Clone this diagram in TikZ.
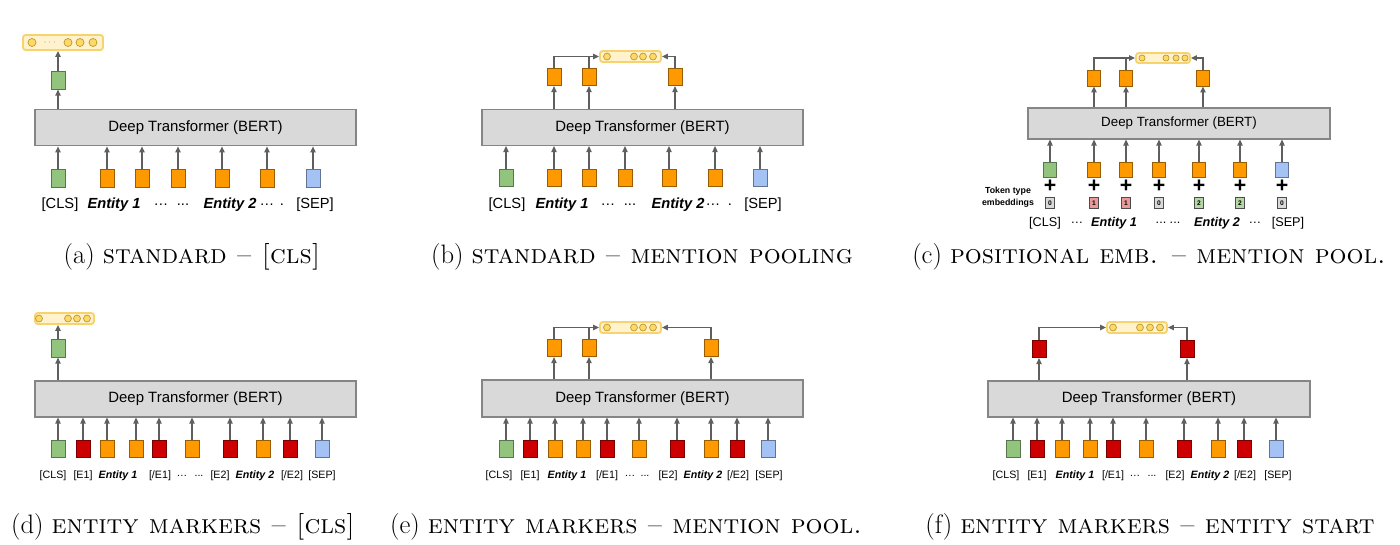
\documentclass[tikz,border=0pt]{standalone}
\usepackage{fontspec}
\newfontfamily\arialf{Liberation Sans}
\usepackage{tikz}
\usetikzlibrary{arrows.meta, positioning}

\definecolor{bertfill}{HTML}{D9D9D9}
\definecolor{bertline}{HTML}{858585}
\definecolor{tokgreen}{HTML}{93C47D}
\definecolor{tokorange}{HTML}{FF9900}
\definecolor{tokred}{HTML}{CC0000}
\definecolor{tokblue}{HTML}{A4C2F4}
\definecolor{vecfill}{HTML}{FFF2CC}
\definecolor{vecline}{HTML}{F6D36E}
\definecolor{dotfill}{HTML}{FFD966}
\definecolor{dotline}{HTML}{B8962E}
\definecolor{arrowgray}{HTML}{5F5F5F}
\definecolor{ttpink}{HTML}{EA9999}
\definecolor{ttgreen}{HTML}{B6D7A8}

\begin{document}
\begin{tikzpicture}[x=0.75pt, y=-0.75pt,
        bert/.style={draw=bertline, fill=bertfill, line width=0.8pt, inner sep=0pt, font=\arialf\fontsize{11.2}{13}\selectfont},
        tok/.style={line width=0.6pt, minimum width=10.5pt, minimum height=13pt, inner sep=0pt},
        gtok/.style={tok, fill=tokgreen, draw=tokgreen!60!black},
        otok/.style={tok, fill=tokorange, draw=tokorange!60!black},
        rtok/.style={tok, fill=tokred, draw=tokred!60!black},
        btok/.style={tok, fill=tokblue, draw=tokblue!60!black},
        vec/.style={draw=vecline, fill=vecfill, rounded corners=2pt, line width=1.4pt, inner sep=0pt},
        dot/.style={circle, draw=dotline, fill=dotfill, line width=0.5pt, inner sep=0pt, minimum size=5.2pt},
        arrow/.style={-{Triangle[length=4.5pt, width=4pt]}, line width=0.9pt, draw=arrowgray},
        link/.style={line width=0.9pt, draw=arrowgray},
        lbl/.style={font=\arialf\fontsize{11}{13}\selectfont, inner sep=0pt},
        slbl/.style={font=\arialf\fontsize{8}{10}\selectfont, inner sep=0pt},
        clbl/.style={font=\arialf\fontsize{9.5}{11}\selectfont, inner sep=0pt},
        ttype/.style={draw=black!70, line width=0.6pt, minimum width=6.8pt, minimum height=8.3pt, inner sep=0pt, font=\arialf\bfseries\fontsize{5}{5}\selectfont},
        plus/.style={font=\arialf\bfseries\fontsize{16}{16}\selectfont, inner sep=0pt},
        subcap/.style={font=\fontsize{20}{23}\selectfont, inner sep=0pt}
    ]
    \useasboundingbox (0,0) rectangle (1400,544);

    % (a) standard - [CLS]
    \node (vecA) at (63,42.5) [vec, minimum width=60pt, minimum height=11.25pt] {};
    \node (vA1) at (32,42.5) [dot, minimum size=6pt] {};
    \node (vA2) at (68,42.5) [dot, minimum size=6pt] {};
    \node (vA3) at (80,42.5) [dot, minimum size=6pt] {};
    \node (vA4) at (93,42.5) [dot, minimum size=6pt] {};
    \node (vAd) at (50,42.5) [inner sep=0pt, font=\fontsize{6}{6}\selectfont, text=black!60] {$\cdots$};
    \node (bertA) at (195.5,127.5) [bert, minimum width=240.75pt, minimum height=27.5pt] {Deep Transformer (BERT)};
    \node (ga) at (58,80.5) [gtok] {};
    \draw [arrow] (ga |- bertA.north) -- (ga);
    \draw [arrow] (ga) -- (ga |- vecA.south);
    \foreach \x/\s [count=\i] in {58/gtok, 107/otok, 142/otok, 178/otok, 222/otok, 267/otok, 313/btok} {
        \node (a\i) at (\x,178.5) [\s] {};
        \draw [arrow] (a\i) -- (a\i |- bertA.south);
    }
    \foreach \x/\t [count=\i] in {60/{[CLS]}, 114/{\textbf{\textit{Entity 1}}}, 161/{…}, 183/{...}, 230/{\textbf{\textit{Entity 2}}}, 267/{…}, 282/{.}, 315/{[SEP]}} {
        \node (la\i) at (\x,205) [lbl] {\t};
    }
    \node (capA) at (192,257) [subcap] {(a) \textsc{standard -- [cls]}};

    % (b) standard - mention pooling
    \node (vecB) at (630.5,56.5) [vec, minimum width=45.75pt, minimum height=8.25pt] {};
    \foreach \x [count=\i] in {607,634,643,653} {
        \node (vB\i) at (\x,56.5) [dot] {};
    }
    \node (bertB) at (642.5,127.5) [bert, minimum width=240.75pt, minimum height=27pt] {Deep Transformer (BERT)};
    \node (ob1) at (554,77) [otok] {};
    \node (ob2) at (589,77) [otok] {};
    \node (ob3) at (675,77) [otok] {};
    \foreach \n in {ob1, ob2, ob3} {
        \draw [arrow] (\n |- bertB.north) -- (\n);
    }
    \draw [arrow] (ob1) |- (vecB.west);
    \draw [link] (ob2) -- (ob2 |- vecB.west);
    \draw [arrow] (ob3) |- (vecB.east);
    \foreach \x/\s [count=\i] in {506/gtok, 554/otok, 589/otok, 625/otok, 669/otok, 715/otok, 760/btok} {
        \node (b\i) at (\x,178) [\s] {};
        \draw [arrow] (b\i) -- (b\i |- bertB.south);
    }
    \foreach \x/\t [count=\i] in {507/{[CLS]}, 562/{\textbf{\textit{Entity 1}}}, 608/{…}, 630/{...}, 678/{\textbf{\textit{Entity 2}}}, 713/{…}, 730/{.}, 763/{[SEP]}} {
        \node (lb\i) at (\x,205) [lbl] {\t};
    }
    \node (capB) at (642,257) [subcap] {(b) \textsc{standard -- mention pooling}};

    % (c) positional emb. - mention pool.
    \node (vecC) at (1163,58) [vec, minimum width=40.5pt, minimum height=7.5pt] {};
    \foreach \x [count=\i] in {1142,1166,1176,1185} {
        \node (vC\i) at (\x,58) [dot, minimum size=4.6pt] {};
    }
    \node (bertC) at (1179,123.5) [bert, minimum width=226.5pt, minimum height=23.25pt, font=\arialf\fontsize{10}{12}\selectfont] {Deep Transformer (BERT)};
    \node (oc1) at (1094,78) [otok, minimum width=9.75pt, minimum height=12pt] {};
    \node (oc2) at (1126,78) [otok, minimum width=9.75pt, minimum height=12pt] {};
    \node (oc3) at (1203,78) [otok, minimum width=9.75pt, minimum height=12pt] {};
    \foreach \n in {oc1, oc2, oc3} {
        \draw [arrow] (\n |- bertC.north) -- (\n);
    }
    \draw [arrow] (oc1) |- (vecC.west);
    \draw [link] (oc2) -- (oc2 |- vecC.west);
    \draw [arrow] (oc3) |- (vecC.east);
    \foreach \x/\s/\f/\v [count=\i] in {1050/gtok/bertfill/0, 1094/otok/ttpink/1, 1126/otok/ttpink/1, 1159/otok/bertfill/0, 1199/otok/ttgreen/2, 1240/otok/ttgreen/2, 1282/btok/bertfill/0} {
        \node (c\i) at (\x,169.5) [\s, minimum width=9.75pt, minimum height=11.25pt] {};
        \draw [arrow] (c\i) -- (c\i |- bertC.south);
        \node (pc\i) at (\x,186) [plus] {+};
        \node (tc\i) at (\x,203) [ttype, fill=\f] {\v};
    }
    \node (ttl) at (1008,197) [font=\arialf\bfseries\fontsize{6.6}{9}\selectfont, align=center, inner sep=0pt] {Token type\\embeddings};
    \foreach \x/\t [count=\i] in {1045/{[CLS]}, 1077/{…}, 1114/{\textbf{\textit{Entity 1}}}, 1161/{...}, 1175/{...}, 1217/{\textbf{\textit{Entity 2}}}, 1255/{…}, 1288/{[SEP]}} {
        \node (lc\i) at (\x,223) [clbl] {\t};
    }
    \node (capC) at (1149,257) [subcap] {(c) \textsc{positional emb. -- mention pool.}};

    % (d) entity markers - [CLS]
    \node (vecD) at (64.5,318.5) [vec, minimum width=44.25pt, minimum height=8.25pt] {};
    \foreach \x [count=\i] in {39,68,77,87} {
        \node (vD\i) at (\x,318.5) [dot] {};
    }
    \node (bertD) at (195.5,399) [bert, minimum width=240.75pt, minimum height=27pt] {Deep Transformer (BERT)};
    \node (gd) at (58,348.5) [gtok] {};
    \draw [arrow] (gd |- bertD.north) -- (gd);
    \draw [arrow] (gd) -- (gd |- vecD.south);
    \foreach \x/\s [count=\i] in {58/gtok, 83/rtok, 107/otok, 136/otok, 159/rtok, 192/otok, 230/rtok, 263/otok, 290/rtok, 322/btok} {
        \node (d\i) at (\x,449) [\s] {};
        \draw [arrow] (d\i) -- (d\i |- bertD.south);
    }
    \foreach \x/\t [count=\i] in {53/{[CLS]}, 83/{[E1]}, 118/{\textbf{\textit{Entity 1}}}, 160/{[/E1]}, 182/{…}, 199/{...}, 220/{[E2]}, 255/{\textbf{\textit{Entity 2}}}, 292/{[/E2]}, 322/{[SEP]}} {
        \node (ld\i) at (\x,476) [slbl] {\t};
    }
    \node (capD) at (183,527) [subcap] {(d) \textsc{entity markers -- [cls]}};

    % (e) entity markers - mention pool.
    \node (vecE) at (630.5,327.5) [vec, minimum width=45.75pt, minimum height=8.25pt] {};
    \foreach \x [count=\i] in {607,634,643,653} {
        \node (vE\i) at (\x,327.5) [dot] {};
    }
    \node (bertE) at (642.5,398.5) [bert, minimum width=240.75pt, minimum height=27.75pt] {Deep Transformer (BERT)};
    \node (oe1) at (554,348) [otok] {};
    \node (oe2) at (589,348) [otok] {};
    \node (oe3) at (711,348) [otok] {};
    \foreach \n in {oe1, oe2, oe3} {
        \draw [arrow] (\n |- bertE.north) -- (\n);
    }
    \draw [arrow] (oe1) |- (vecE.west);
    \draw [link] (oe2) -- (oe2 |- vecE.west);
    \draw [arrow] (oe3) |- (vecE.east);
    \foreach \x/\s [count=\i] in {506/gtok, 530/rtok, 555/otok, 583/otok, 607/rtok, 639/otok, 677/rtok, 711/otok, 737/rtok, 768/btok} {
        \node (e\i) at (\x,449) [\s] {};
        \draw [arrow] (e\i) -- (e\i |- bertE.south);
    }
    \foreach \x/\t [count=\i] in {499/{[CLS]}, 530/{[E1]}, 567/{\textbf{\textit{Entity 1}}}, 607/{[/E1]}, 630/{…}, 645/{...}, 668/{[E2]}, 703/{\textbf{\textit{Entity 2}}}, 738/{[/E2]}, 769/{[SEP]}} {
        \node (le\i) at (\x,476) [slbl] {\t};
    }
    \node (capE) at (626,527) [subcap] {(e) \textsc{entity markers -- mention pool.}};

    % (f) entity markers - entity start
    \node (vecF) at (1137,327.5) [vec, minimum width=45pt, minimum height=8.25pt] {};
    \foreach \x [count=\i] in {1113,1140,1150,1160} {
        \node (vF\i) at (\x,327.5) [dot] {};
    }
    \node (bertF) at (1149,399) [bert, minimum width=241.5pt, minimum height=27pt] {Deep Transformer (BERT)};
    \node (rf1) at (1039,349) [rtok] {};
    \node (rf2) at (1187,349) [rtok] {};
    \foreach \n in {rf1, rf2} {
        \draw [arrow] (\n |- bertF.north) -- (\n);
    }
    \draw [arrow] (rf1) |- (vecF.west);
    \draw [arrow] (rf2) |- (vecF.east);
    \foreach \x/\s [count=\i] in {1013/gtok, 1037/rtok, 1062/otok, 1090/otok, 1113/rtok, 1146/otok, 1184/rtok, 1218/otok, 1244/rtok, 1276/btok} {
        \node (f\i) at (\x,449) [\s] {};
        \draw [arrow] (f\i) -- (f\i |- bertF.south);
    }
    \foreach \x/\t [count=\i] in {1006/{[CLS]}, 1037/{[E1]}, 1075/{\textbf{\textit{Entity 1}}}, 1113/{[/E1]}, 1135/{…}, 1152/{...}, 1175/{[E2]}, 1210/{\textbf{\textit{Entity 2}}}, 1245/{[/E2]}, 1278/{[SEP]}} {
        \node (lf\i) at (\x,476) [slbl] {\t};
    }
    \node (capF) at (1150,527) [subcap] {(f) \textsc{entity markers -- entity start}};

\end{tikzpicture}
\end{document}
